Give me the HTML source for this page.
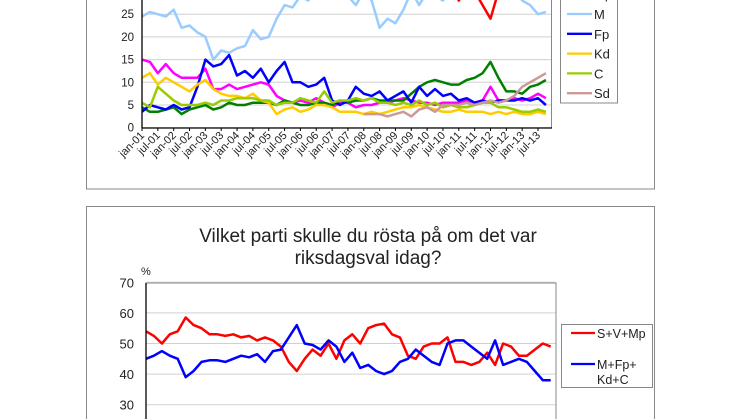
<!DOCTYPE html>
<html><head><meta charset="utf-8"><style>
body{margin:0;background:#fff;width:746px;height:419px;overflow:hidden;font-family:"Liberation Sans",Arial,sans-serif}
svg{display:block}
</style></head><body>
<svg id="c" width="746" height="419">
<rect x="86.5" y="-5" width="568" height="194" fill="#fff" stroke="#888"/>
<rect x="86.5" y="206.5" width="568" height="230" fill="#fff" stroke="#888"/>
<g id="top"></g>
<g id="bot"></g>
</svg>
<script>
const months = [];for(let m=0;m<156;m+=3)months.push(m);
const xLabels=[];for(let y=1;y<=13;y++){const yy=(y<10?'0':'')+y;xLabels.push('jan-'+yy,'jul-'+yy);}
const topTicks=[0,5,10,15,20,25,30];
const botTicks=[30,40,50,60,70];
const sS=[38,37,39,36,37,38,36,37,38,39,37,36,38,37,36,38,39,40,36,35,37,38,36,35,37,38,36,37,38,39,37,36,38,35,33,31,30,29,31,32,28,31,30,27,24,30,32,33,34,33,35,34];
const sV=[15,14.5,12,14,12,11,11,11,13,8.5,8.5,9.5,8.5,9,9.5,10,9.5,7,6,5.5,6,5.5,6.5,5.5,4.5,5.5,5.5,4.5,5,5,5.5,5.5,6,6.5,6,5.5,5.5,5,5.5,5.5,5.5,6,5.5,6,9,6,6,6.5,6,6.5,7.5,6.5];
const sMp=[4.5,3.5,3.5,4,4.5,3,4,4.5,5,4,4.5,5.5,5,5,5.5,5.5,5.5,5,6,5.5,5,5,5.5,5.5,5,6,5.5,6,6,6.5,6,6,6,6,7.5,9,10,10.5,10,9.5,9.5,10.5,11,12,14.5,11,8,8,7.5,9,9.5,10.5];
const sM=[24.5,25.5,25,24.5,26,22,22.5,21,20,15,17,16.5,17.5,18,21.5,19.5,20,24,27,26.5,29,28,31,32,33,31,29,27,30,28,22,24,23,26,30,27,30,29,28,31,32,33,33,32,31,32,30,31,28,27,25,25.5];
const sFp=[3.5,5,4.5,4,5,4,4.5,9,15,13.5,14,16,11.5,12.5,11,13,10,12.5,14.5,10,10,9,9.5,11,6,5,6,9,7.5,7,8,6,7,8,5.5,9,7,8.5,7,7.5,6,6.5,5.5,6,5.5,6,6,6,6.5,6,6.5,5];
const sKd=[11,12,9.5,11,10,9,8,9.5,10.5,8.5,7.5,7,7,6.5,7.5,6,5.5,3,4,4.5,3.5,4,5,5,4.5,3.5,3.5,3.5,3,3.5,3,3.5,4,4.5,4.5,5,4.5,4,3.5,3.5,4,3.5,3.5,3.5,3,3.5,3,3.5,3,3,3.5,3];
const sC=[5.5,4.5,9,7.5,6,5,5,5,5.5,5,6,6,6.5,6.5,6.5,6,6,5,5.5,5.5,6.5,6,5.5,8,5.5,6,6,6.5,6,6.5,5.5,5.5,5,5.5,5,6,5,5.5,4.5,5,4.5,4.5,5,5.5,5.5,4.5,4.5,4,3.5,3.5,4,3.5];
const sSd=[null,null,null,null,null,null,null,null,null,null,null,null,null,null,null,null,null,null,null,null,null,null,null,null,null,null,null,null,3,3,3,2.5,3,3.5,2.5,4,4.5,3.5,5,5,5,5.5,5,5.5,6,5.5,6,7,9,10,11,12];
const bRed=[54,52.5,50,53,54,58.5,56,55,53,53,52.5,53,52,52.5,51,52,51,49,44,41,45,48,46,50,45,51,53,50,55,56,56.5,53,52,46,45,49,50,50,52,44,44,43,44,47,43,50,49,46,46,48,50,49];
const bBlue=[45,46,47.5,46,45,39,41,44,44.5,44.5,44,45,46,45.5,46.5,44,47.5,48,52,56,50,49.5,48,51,49,44,47,42,43,41,40,41,44,45,48,46,44,43,50,51,51,49,47,45,51,43,44,45,44,41,38,38];

const NS='http://www.w3.org/2000/svg';
function mk(p,t,a,txt){const e=document.createElementNS(NS,t);for(const k in a)e.setAttribute(k,a[k]);if(txt!=null)e.textContent=txt;p.appendChild(e);return e;}
const T=document.getElementById('top');
const tx=m=>142+m*2.64, ty=v=>127.7-v*4.54;
for(const v of topTicks){
 const g=mk(T,'line',{x1:142,x2:551,y1:ty(v),y2:ty(v),stroke:'#d0d0d0'});
 
 
 const l=mk(T,'text',{x:134,y:ty(v)+4,'text-anchor':'end','font-size':11.5,fill:'#222'},v);
 
 
}
mk(T,'line',{x1:551.5,x2:551.5,y1:-5,y2:128,stroke:'#888'});
xLabels.forEach((s,i)=>{
 const x=tx(i*6);
 mk(T,'line',{x1:x,x2:x,y1:128,y2:131,stroke:'#000'});
 const l=mk(T,'text',{x:x+3,y:136,'text-anchor':'end','font-size':11,fill:'#222',transform:`rotate(-45 ${x+3} 136)`},s);
 
 
});
const topSeries=[['S',sS,'#ff0000'],['V',sV,'#ff00ff'],['Mp',sMp,'#008000'],['M',sM,'#99ccff'],['Fp',sFp,'#0000ff'],['Kd',sKd,'#ffcc00'],['C',sC,'#99cc00'],['Sd',sSd,'#cc9999']];
function path(arr,fx,fy){let d='',pen=false;arr.forEach((v,i)=>{if(v==null){pen=false;return;}d+=(pen?'L':'M')+fx(months[i]).toFixed(1)+','+fy(v).toFixed(1);pen=true;});return d;}
const clipT=mk(T,'clipPath',{id:'ct'});mk(clipT,'rect',{x:142,y:-10,width:410,height:140});
for(const [n,a,c] of topSeries){
 const p=mk(T,'path',{d:path(a,tx,ty),fill:'none',stroke:c,'stroke-width':2.5,'stroke-linejoin':'round','clip-path':'url(#ct)'});
 
 
}
mk(T,'line',{x1:142,x2:142,y1:-5,y2:128,stroke:'#000','stroke-width':1.3});
mk(T,'line',{x1:142,x2:552,y1:128,y2:128,stroke:'#000','stroke-width':1.3});
const lg=mk(T,'rect',{x:560.5,y:-40,width:57,height:143,fill:'#fff',stroke:'#888'});


topSeries.forEach(([n,a,c],i)=>{
 const y=-45.4+i*19.8;
 mk(T,'line',{x1:567,x2:592,y1:y,y2:y,stroke:c,'stroke-width':2.3});
 const t=mk(T,'text',{x:594,y:y+5,'font-size':13,fill:'#222'},n);
 
 
});
const B=document.getElementById('bot');
const bx=m=>146+m*2.645, by=v=>343.5-(v-50)*3.06;
const t1=mk(B,'text',{x:368,y:242,'text-anchor':'middle','font-size':19,fill:'#222'},'Vilket parti skulle du rösta på om det var');


mk(B,'text',{x:368,y:264,'text-anchor':'middle','font-size':19,fill:'#222'},'riksdagsval idag?');
const pc=mk(B,'text',{x:141,y:275,'font-size':11,fill:'#222'},'%');


for(const v of botTicks){
 const g=mk(B,'line',{x1:146,x2:556,y1:by(v),y2:by(v),stroke:'#d0d0d0'});
 
 
 const l=mk(B,'text',{x:134,y:by(v)+5,'text-anchor':'end','font-size':13,fill:'#222'},v);
 
 
}
mk(B,'rect',{x:146,y:283,width:410,height:150,fill:'none',stroke:'#888'});
const botSeries=[['S+V+Mp',bRed,'#ff0000'],['M+Fp+Kd+C',bBlue,'#0000ff']];
for(const [n,a,c] of botSeries){
 const p=mk(B,'path',{d:path(a,bx,by),fill:'none',stroke:c,'stroke-width':2.5,'stroke-linejoin':'round'});
 
 
}
mk(B,'line',{x1:146,x2:146,y1:283,y2:420,stroke:'#000','stroke-width':1.3});
const lb=mk(B,'rect',{x:561.5,y:324.5,width:91,height:63,fill:'#fff',stroke:'#888'});


mk(B,'line',{x1:571,x2:595,y1:333,y2:333,stroke:'#ff0000','stroke-width':2.3});
const e1=mk(B,'text',{x:597,y:338,'font-size':12.5,fill:'#222'},'S+V+Mp');


mk(B,'line',{x1:571,x2:595,y1:364,y2:364,stroke:'#0000ff','stroke-width':2.3});
const e2=mk(B,'text',{x:597,y:369,'font-size':12.5,fill:'#222'},'M+Fp+');


mk(B,'text',{x:597,y:384,'font-size':12.5,fill:'#222'},'Kd+C');
</script>
</body></html>
